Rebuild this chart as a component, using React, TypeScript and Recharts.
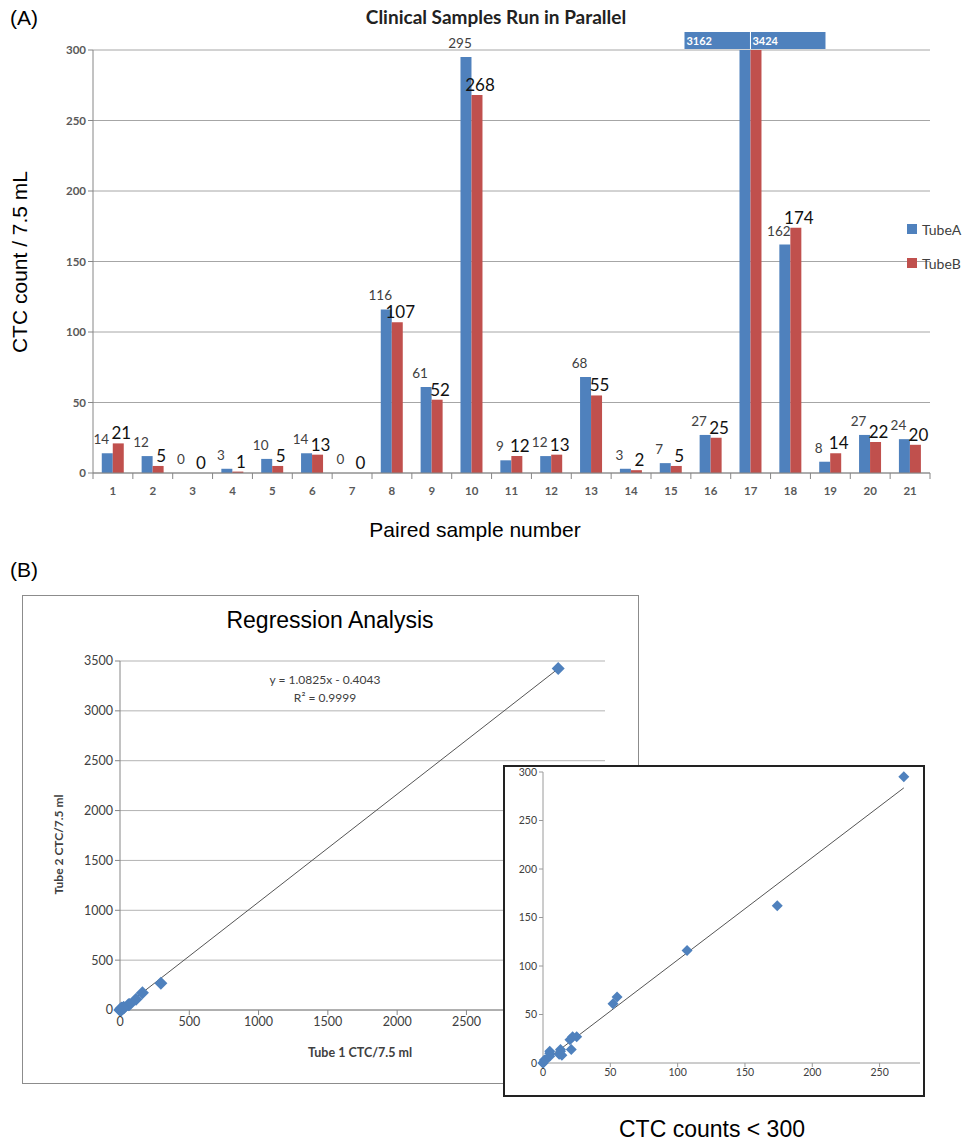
import {
  BarChart,
  Bar,
  XAxis,
  YAxis,
  CartesianGrid,
  LabelList,
  ScatterChart,
  Scatter,
  ReferenceLine,
} from 'recharts';

const samples = ['1', '2', '3', '4', '5', '6', '7', '8', '9', '10', '11', '12', '13', '14', '15', '16', '17', '18', '19', '20', '21'];
const tubeA = [14, 12, 0, 3, 10, 14, 0, 116, 61, 295, 9, 12, 68, 3, 7, 27, 3162, 162, 8, 27, 24];
const tubeB = [21, 5, 0, 1, 5, 13, 0, 107, 52, 268, 12, 13, 55, 2, 5, 25, 3424, 174, 14, 22, 20];
const seriesNames = ['TubeA', 'TubeB'];

const barTicks = [0, 50, 100, 150, 200, 250, 300];
const mainTicksY = [0, 500, 1000, 1500, 2000, 2500, 3000, 3500];
const mainTicksX = [0, 500, 1000, 1500, 2000, 2500];
const insetTicksY = [0, 50, 100, 150, 200, 250, 300];
const insetTicksX = [0, 50, 100, 150, 200, 250];

// trend line printed on the chart
const fitSlope = 1.0825;
const fitIntercept = -0.4043;

const BLUE = '#4f81bd';
const RED = '#c0504d';
const CHART_FONT = 'Lato, "Open Sans", sans-serif';
const FIG_FONT = '"Liberation Sans", Arial, sans-serif';

const barData = samples.map((s, i) => ({ sample: s, TubeA: tubeA[i], TubeB: tubeB[i] }));
const mainPoints = tubeA.map((a, i) => ({ x: a, y: tubeB[i] }));
const insetPoints = tubeA
  .map((a, i) => ({ x: tubeB[i], y: a }))
  .filter((p) => p.x < 300 && p.y < 300);

// least squares line for the small-count inset
const n = insetPoints.length;
const mx = insetPoints.reduce((s, p) => s + p.x, 0) / n;
const my = insetPoints.reduce((s, p) => s + p.y, 0) / n;
const sxy = insetPoints.reduce((s, p) => s + (p.x - mx) * (p.y - my), 0);
const sxx = insetPoints.reduce((s, p) => s + (p.x - mx) * (p.x - mx), 0);
const insetSlope = sxy / sxx;
const insetIntercept = my - insetSlope * mx;
const insetMaxX = Math.max(...insetPoints.map((p) => p.x));

const mainMaxX = Math.max(...tubeA);

// bar chart geometry
const BAR_W = 975;
const BAR_H = 560;
const BAR_LEFT = 93;
const BAR_RIGHT = 45;
const BAR_BOTTOM = 57;
const X_AXIS_H = 30;
const plotBottom = BAR_H - BAR_BOTTOM - X_AXIS_H;
const band = (BAR_W - BAR_LEFT - BAR_RIGHT) / samples.length;

const CategoryTick = (props: any) => {
  const { x, payload, index } = props;
  return (
    <g>
      <line x1={x - band / 2} x2={x - band / 2} y1={plotBottom} y2={plotBottom + 6} stroke='#868686' />
      {index === samples.length - 1 && (
        <line x1={x + band / 2} x2={x + band / 2} y1={plotBottom} y2={plotBottom + 6} stroke='#868686' />
      )}
      <text x={x} y={plotBottom + 22} textAnchor='middle' fontSize={11.5} fontWeight={700} fill='#595959' fontFamily={CHART_FONT}>
        {payload.value}
      </text>
    </g>
  );
};

const labelA = (props: any) => {
  const { x, y, width, value } = props;
  if (value > 300) {
    const right = x + width;
    return (
      <g>
        <rect x={right - 66} y={32} width={66} height={17} fill={BLUE} />
        <text x={right - 64} y={45} fontSize={11} fontWeight={700} fill='#ffffff' fontFamily={CHART_FONT}>
          {value}
        </text>
      </g>
    );
  }
  return (
    <text x={x + width / 2 - 6} y={y - 9} textAnchor='middle' fontSize={13.5} fill='#404040' fontFamily={CHART_FONT}>
      {value}
    </text>
  );
};

const labelB = (props: any) => {
  const { x, y, width, value } = props;
  if (value > 300) {
    return (
      <g>
        <rect x={x} y={32} width={75} height={17} fill={BLUE} />
        <line x1={x} x2={x} y1={32} y2={49} stroke='#ffffff' />
        <text x={x + 2} y={45} fontSize={11} fontWeight={700} fill='#ffffff' fontFamily={CHART_FONT}>
          {value}
        </text>
      </g>
    );
  }
  return (
    <text x={x + width / 2 + 3} y={y - 4} textAnchor='middle' fontSize={17} fill='#111111' fontFamily={CHART_FONT}>
      {value}
    </text>
  );
};

// zero-valued bars still need a rect so their labels get drawn
const zeroBar = (value: number) => (value === 0 ? 0.01 : 0);

// Excel-style square diamond marker
const diamond = (r: number) => (props: any) => {
  const { cx, cy } = props;
  return (
    <polygon
      points={`${cx},${cy - r} ${cx + r},${cy} ${cx},${cy + r} ${cx - r},${cy}`}
      fill={BLUE}
    />
  );
};

const tickStyle = { fontSize: 11.5, fontWeight: 700, fill: '#595959', fontFamily: CHART_FONT };

const App = () => {
  return (
    <div style={{ position: 'absolute', left: 0, top: 0, width: 975, height: 1146, background: '#fff', fontFamily: FIG_FONT }}>
      {/* panel A */}
      <div style={{ position: 'absolute', left: 10, top: 6, fontSize: 21 }}>(A)</div>
      <div style={{ position: 'absolute', left: 316, top: 5, width: 360, textAlign: 'center', fontSize: 19, fontWeight: 700, fontFamily: CHART_FONT, color: '#222' }}>
        Clinical Samples Run in Parallel
      </div>
      <div style={{ position: 'absolute', left: 0, top: 0 }}>
        <BarChart
          width={BAR_W}
          height={BAR_H}
          data={barData}
          margin={{ top: 50, right: BAR_RIGHT, bottom: BAR_BOTTOM, left: 0 }}
          barGap={0}
          barCategoryGap='22%'
        >
          <CartesianGrid vertical={false} stroke='#a6a6a6' />
          <XAxis dataKey='sample' height={X_AXIS_H} tickLine={false} stroke='#868686' tick={<CategoryTick />} interval={0} />
          <YAxis
            width={BAR_LEFT}
            domain={[0, 300]}
            ticks={barTicks}
            allowDataOverflow
            stroke='#868686'
            tickSize={5}
            tick={tickStyle}
          />
          <Bar dataKey='TubeA' fill={BLUE} minPointSize={zeroBar} isAnimationActive={false}>
            <LabelList dataKey='TubeA' content={labelA} />
          </Bar>
          <Bar dataKey='TubeB' fill={RED} minPointSize={zeroBar} isAnimationActive={false}>
            <LabelList dataKey='TubeB' content={labelB} />
          </Bar>
        </BarChart>
      </div>
      <div style={{ position: 'absolute', left: 907, top: 212, fontFamily: CHART_FONT, fontSize: 14, color: '#404040' }}>
        {seriesNames.map((name, i) => (
          <div key={name} style={{ display: 'flex', alignItems: 'center', height: 34 }}>
            <span style={{ width: 10, height: 10, background: i === 0 ? BLUE : RED, marginRight: 5, display: 'inline-block' }} />
            {name}
          </div>
        ))}
      </div>
      <div
        style={{
          position: 'absolute',
          left: 20 - 100,
          top: 262 - 12,
          width: 200,
          textAlign: 'center',
          fontSize: 21,
          transform: 'rotate(-90deg)',
          whiteSpace: 'nowrap',
        }}
      >
        CTC count / 7.5 mL
      </div>
      <div style={{ position: 'absolute', left: 325, top: 518, width: 300, textAlign: 'center', fontSize: 21 }}>
        Paired sample number
      </div>

      {/* panel B */}
      <div style={{ position: 'absolute', left: 10, top: 558, fontSize: 21 }}>(B)</div>
      <div style={{ position: 'absolute', left: 22, top: 595, width: 615, height: 487, border: '1px solid #8c8c8c' }} />
      <div style={{ position: 'absolute', left: 180, top: 607, width: 300, textAlign: 'center', fontSize: 23 }}>
        Regression Analysis
      </div>
      <div style={{ position: 'absolute', left: 0, top: 640 }}>
        <ScatterChart width={640} height={440} margin={{ top: 21, right: 35, bottom: 40, left: 70 }}>
          <CartesianGrid vertical={false} stroke='#b3b3b3' />
          <XAxis
            type='number'
            dataKey='x'
            domain={[0, 3500]}
            ticks={mainTicksX}
            height={30}
            stroke='#868686'
            tickSize={5}
            tick={{ fontSize: 12.5, fill: '#404040', fontFamily: CHART_FONT }}
          />
          <YAxis
            type='number'
            dataKey='y'
            domain={[0, 3500]}
            ticks={mainTicksY}
            width={50}
            stroke='#868686'
            tickSize={5}
            tick={{ fontSize: 12.5, fill: '#404040', fontFamily: CHART_FONT }}
          />
          <ReferenceLine
            segment={[
              { x: 0, y: fitIntercept },
              { x: mainMaxX, y: fitSlope * mainMaxX + fitIntercept },
            ]}
            stroke='#555'
            strokeWidth={1}
            ifOverflow='visible'
          />
          <Scatter data={mainPoints} shape={diamond(6.5)} isAnimationActive={false} />
        </ScatterChart>
      </div>
      <div style={{ position: 'absolute', left: 175, top: 671, width: 300, textAlign: 'center', fontSize: 12, lineHeight: '18px', color: '#404040', fontFamily: CHART_FONT }}>
        y = 1.0825x - 0.4043
        <br />
        R² = 0.9999
      </div>
      <div
        style={{
          position: 'absolute',
          left: 58 - 80,
          top: 845 - 8,
          width: 160,
          textAlign: 'center',
          fontSize: 12,
          fontWeight: 700,
          color: '#404040',
          fontFamily: CHART_FONT,
          transform: 'rotate(-90deg)',
          whiteSpace: 'nowrap',
        }}
      >
        Tube 2 CTC/7.5 ml
      </div>
      <div style={{ position: 'absolute', left: 280, top: 1045, width: 160, textAlign: 'center', fontSize: 12.5, fontWeight: 700, color: '#404040', fontFamily: CHART_FONT }}>
        Tube 1 CTC/7.5 ml
      </div>

      {/* inset */}
      <div style={{ position: 'absolute', left: 503, top: 765, width: 418, height: 328, border: '2px solid #222', background: '#fff' }} />
      <div style={{ position: 'absolute', left: 503, top: 765 }}>
        <ScatterChart width={422} height={332} margin={{ top: 7, right: 5, bottom: 14, left: 10 }}>
          <XAxis
            type='number'
            dataKey='x'
            domain={[0, 280]}
            ticks={insetTicksX}
            height={20}
            stroke='#9a9a9a'
            tickSize={4}
            tick={{ fontSize: 10.5, fill: '#404040', fontFamily: CHART_FONT }}
          />
          <YAxis
            type='number'
            dataKey='y'
            domain={[0, 300]}
            ticks={insetTicksY}
            width={30}
            stroke='#9a9a9a'
            tickSize={4}
            tick={{ fontSize: 10.5, fill: '#404040', fontFamily: CHART_FONT }}
          />
          <ReferenceLine
            segment={[
              { x: 0, y: insetIntercept },
              { x: insetMaxX, y: insetSlope * insetMaxX + insetIntercept },
            ]}
            stroke='#555'
            strokeWidth={1}
            ifOverflow='visible'
          />
          <Scatter data={insetPoints} shape={diamond(5.5)} isAnimationActive={false} />
        </ScatterChart>
      </div>
      <div style={{ position: 'absolute', left: 562, top: 1116, width: 300, textAlign: 'center', fontSize: 23 }}>
        CTC counts &lt; 300
      </div>
    </div>
  );
};

export default App;
